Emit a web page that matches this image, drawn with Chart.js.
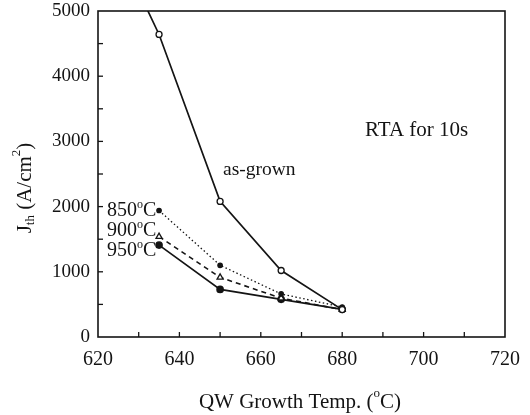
<!DOCTYPE html>
<html><head><meta charset="utf-8">
<script src="https://cdn.jsdelivr.net/npm/chart.js@4/dist/chart.umd.min.js"></script>
<style>html,body{margin:0;padding:0;background:#fff}canvas{display:block}</style>
</head><body>
<canvas id="c" width="530" height="415"></canvas>
<script>
const temps = [635, 650, 665, 680];
const asGrownTemps = [630, 635, 650, 665, 680];
const asGrown = [5300, 4640, 2080, 1020, 420];
const rta850 = [1940, 1100, 660, 460];
const rta900 = [1540, 915, 595, 420];
const rta950 = [1410, 730, 578, 425];
const xTicks = [620, 640, 660, 680, 700, 720];
const yTicks = [0, 1000, 2000, 3000, 4000, 5000];

const INK = '#141414';
const SERIF = '"Liberation Serif", "DejaVu Serif", serif';

function pts(xs, ys) { return xs.map((x, i) => ({x: x, y: ys[i]})); }

const decor = {
  id: 'decor',
  afterDraw(chart) {
    const ctx = chart.ctx, a = chart.chartArea;
    const xs = chart.scales.x, ys = chart.scales.y;
    ctx.save();
    ctx.strokeStyle = INK; ctx.lineWidth = 1.6;
    ctx.strokeRect(a.left, a.top, a.right - a.left, a.bottom - a.top);
    ctx.lineWidth = 1.3;
    for (let v = 630; v < 720; v += 10) {
      const px = xs.getPixelForValue(v);
      ctx.beginPath(); ctx.moveTo(px, a.bottom); ctx.lineTo(px, a.bottom - 5); ctx.stroke();
    }
    for (let v = 500; v < 5000; v += 500) {
      const py = ys.getPixelForValue(v);
      ctx.beginPath(); ctx.moveTo(a.left, py); ctx.lineTo(a.left + 5, py); ctx.stroke();
    }
    ctx.fillStyle = INK;
    ctx.textBaseline = 'middle';
    ctx.textAlign = 'left';
    ctx.font = '21px ' + SERIF;
    ctx.fillText('RTA for 10s', 365, 130);
    ctx.font = '19.5px ' + SERIF;
    ctx.fillText('as-grown', 223, 170);
    function degLabel(txt, x, y, size) {
      ctx.font = size + 'px ' + SERIF;
      ctx.fillText(txt, x, y);
      let w = ctx.measureText(txt).width;
      ctx.font = Math.round(size * 0.62) + 'px ' + SERIF;
      ctx.fillText('o', x + w, y - size * 0.33);
      let w2 = ctx.measureText('o').width;
      ctx.font = size + 'px ' + SERIF;
      ctx.fillText('C', x + w + w2, y);
    }
    degLabel('850', 107, 211, 20);
    degLabel('900', 107, 231, 20);
    degLabel('950', 107, 251, 20);
    // x title
    const p1 = 'QW Growth Temp. (', p3 = 'C)';
    ctx.font = '21px ' + SERIF; const w1 = ctx.measureText(p1).width, w3 = ctx.measureText(p3).width;
    ctx.font = '13px ' + SERIF; const w2 = ctx.measureText('o').width;
    let sx = 300 - (w1 + w2 + w3) / 2;
    ctx.font = '21px ' + SERIF; ctx.fillText(p1, sx, 402);
    ctx.font = '13px ' + SERIF; ctx.fillText('o', sx + w1, 394);
    ctx.font = '21px ' + SERIF; ctx.fillText(p3, sx + w1 + w2, 402);
    // y title rotated
    ctx.translate(25, 188);
    ctx.rotate(-Math.PI / 2);
    const parts = [
      ['J', 21, 0], ['th', 13, 6], [' (A/cm', 21, 0], ['2', 13, -8], [')', 21, 0]
    ];
    let tw = 0;
    parts.forEach(p => { ctx.font = p[1] + 'px ' + SERIF; tw += ctx.measureText(p[0]).width; });
    let cx = -tw / 2;
    parts.forEach(p => {
      ctx.font = p[1] + 'px ' + SERIF;
      ctx.fillText(p[0], cx, p[2]);
      cx += ctx.measureText(p[0]).width;
    });
    ctx.restore();
  }
};

new Chart(document.getElementById('c'), {
  type: 'scatter',
  data: {
    datasets: [
      { label: 'as-grown', data: pts(asGrownTemps, asGrown), showLine: true,
        borderColor: INK, borderWidth: 1.7, pointStyle: 'circle',
        pointRadius: [0, 3, 3, 3, 3], pointBackgroundColor: '#fff', pointBorderColor: INK, pointBorderWidth: 1.3 },
      { label: '850°C', data: pts(temps, rta850), showLine: true,
        borderColor: INK, borderWidth: 1.3, borderDash: [1.5, 2.5],
        pointStyle: 'circle', pointRadius: 2.2, pointBackgroundColor: INK, pointBorderColor: INK },
      { label: '900°C', data: pts(temps, rta900), showLine: true,
        borderColor: INK, borderWidth: 1.6, borderDash: [5, 4],
        pointStyle: 'triangle', pointRadius: 3.5, pointBackgroundColor: '#fff', pointBorderColor: INK, pointBorderWidth: 1.3 },
      { label: '950°C', data: pts(temps, rta950), showLine: true,
        borderColor: INK, borderWidth: 1.7,
        pointStyle: 'circle', pointRadius: 3, pointBackgroundColor: INK, pointBorderColor: INK }
    ]
  },
  options: {
    responsive: false, animation: false,
    layout: { padding: { left: 0, right: 25, top: 11, bottom: 0 } },
    plugins: { legend: { display: false }, tooltip: { enabled: false } },
    scales: {
      x: {
        type: 'linear', min: 620, max: 720,
        afterBuildTicks: s => { s.ticks = xTicks.map(v => ({value: v})); },
        afterFit: s => { s.height = 415 - 337; s.paddingLeft = 0; s.paddingRight = 0; },
        grid: { display: false, drawTicks: false }, border: { display: false },
        ticks: { color: INK, font: { family: SERIF, size: 20 }, padding: 11, maxRotation: 0,
                 callback: v => String(v) }
      },
      y: {
        type: 'linear', min: 0, max: 5000,
        afterBuildTicks: s => { s.ticks = yTicks.map(v => ({value: v})); },
        afterFit: s => { s.width = 98; s.paddingTop = 0; s.paddingBottom = 0; },
        grid: { display: false, drawTicks: false }, border: { display: false },
        ticks: { color: INK, font: { family: SERIF, size: 19 }, padding: 8,
                 callback: v => String(v) }
      }
    }
  },
  plugins: [decor]
});
</script>
</body></html>
